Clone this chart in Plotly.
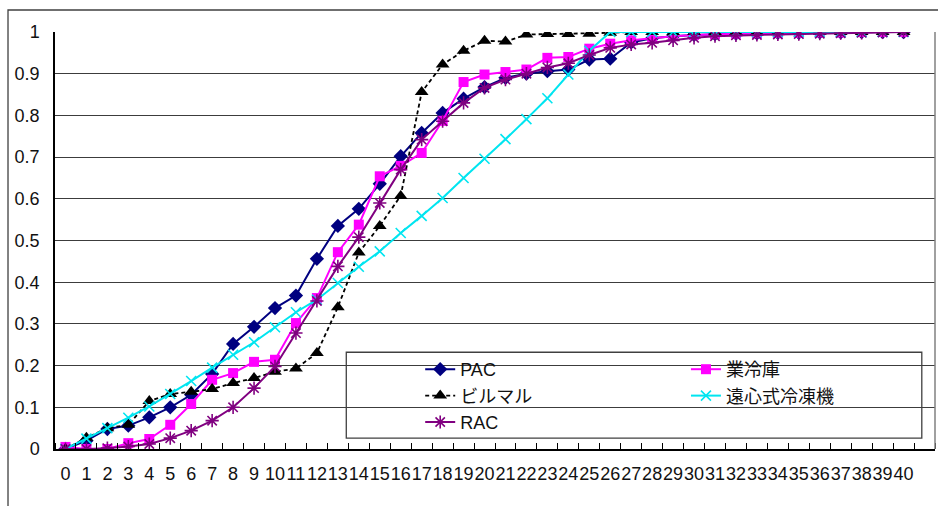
import plotly.graph_objects as go

# ---- data ----
x_vals = list(range(41))
x_labels = [str(i) for i in x_vals]
y_ticks = [0, 0.1, 0.2, 0.3, 0.4, 0.5, 0.6, 0.7, 0.8, 0.9, 1.0]
y_tick_labels = ["0", "0.1", "0.2", "0.3", "0.4", "0.5", "0.6", "0.7", "0.8", "0.9", "1"]

pac = [0, 0.02, 0.048, 0.056, 0.076, 0.10, 0.13, 0.18, 0.252, 0.293, 0.338, 0.368,
       0.456, 0.535, 0.576, 0.636, 0.702, 0.758, 0.806, 0.84, 0.868, 0.89, 0.90,
       0.906, 0.91, 0.934, 0.936, 0.975, 0.985, 0.99, 0.993, 0.995, 0.996, 0.997,
       0.998, 0.998, 0.999, 0.999, 1.0, 1.0, 1.0]
gyoreiko = [0.005, 0, 0, 0.014, 0.024, 0.058, 0.108, 0.166, 0.182, 0.209, 0.214, 0.302,
            0.362, 0.472, 0.538, 0.654, 0.679, 0.71, 0.787, 0.88, 0.898, 0.904, 0.91,
            0.938, 0.94, 0.96, 0.972, 0.98, 0.985, 0.99, 0.993, 0.995, 0.996, 0.997,
            0.998, 0.998, 0.999, 0.999, 1.0, 1.0, 1.0]
birumaru = [0, 0.027, 0.05, 0.058, 0.115, 0.132, 0.137, 0.144, 0.158, 0.17, 0.185, 0.193,
            0.23, 0.34, 0.471, 0.535, 0.607, 0.856, 0.922, 0.955, 0.979, 0.977, 0.994,
            0.995, 0.995, 0.996, 0.998, 1.0, 1.0, 1.0, 1.0, 1.0, 1.0, 1.0, 1.0, 1.0,
            1.0, 1.0, 1.0, 1.0, 1.0]
enshin = [0, 0.025, 0.05, 0.075, 0.102, 0.132, 0.163, 0.195, 0.226, 0.256, 0.292, 0.328,
          0.358, 0.398, 0.437, 0.474, 0.518, 0.559, 0.602, 0.65, 0.696, 0.743, 0.791,
          0.841, 0.898, 0.955, 1.0, 1.0, 1.0, 1.0, 1.0, 1.0, 1.0, 1.0, 1.0, 1.0,
          1.0, 1.0, 1.0, 1.0, 1.0]
rac = [0, 0, 0.002, 0.006, 0.012, 0.026, 0.044, 0.068, 0.10, 0.146, 0.198, 0.278,
       0.355, 0.438, 0.508, 0.59, 0.67, 0.742, 0.786, 0.83, 0.866, 0.886, 0.90,
       0.915, 0.925, 0.945, 0.962, 0.97, 0.974, 0.98, 0.986, 0.99, 0.992, 0.993,
       0.994, 0.995, 0.996, 0.997, 0.998, 0.999, 1.0]

FONT = "Liberation Sans, Arial, Noto Sans CJK JP, sans-serif"

fig = go.Figure()
fig.add_trace(go.Scatter(x=x_vals, y=pac, name="PAC", mode="lines+markers",
                         line=dict(color="#000080", width=2),
                         marker=dict(symbol="diamond", size=11, color="#000080"),
                         legend="legend"))
fig.add_trace(go.Scatter(x=x_vals, y=gyoreiko, name="業冷庫", mode="lines+markers",
                         line=dict(color="#FF00FF", width=2),
                         marker=dict(symbol="square", size=10, color="#FF00FF"),
                         legend="legend2"))
fig.add_trace(go.Scatter(x=x_vals, y=birumaru, name="ビルマル", mode="lines+markers",
                         line=dict(color="#000000", width=1.8, dash="4px,3px"),
                         marker=dict(symbol="triangle-up", size=12, color="#000000"),
                         legend="legend"))
fig.add_trace(go.Scatter(x=x_vals, y=enshin, name="遠心式冷凍機", mode="lines+markers",
                         line=dict(color="#00E5F0", width=2),
                         marker=dict(symbol="x-thin-open", size=10,
                                     line=dict(color="#00E5F0", width=1.6)),
                         legend="legend2"))
fig.add_trace(go.Scatter(x=x_vals, y=rac, name="RAC", mode="lines+markers",
                         line=dict(color="#800080", width=2),
                         marker=dict(symbol="asterisk-open", size=11,
                                     line=dict(color="#800080", width=1.6)),
                         legend="legend"))

fig.update_layout(
    width=938, height=506,
    margin=dict(l=55, r=3, t=32, b=57),
    paper_bgcolor="white", plot_bgcolor="white",
    font=dict(family=FONT, size=18, color="#111111"),
    showlegend=True,
    legend=dict(x=0.415, y=0.235, xanchor="left", yanchor="top",
                bgcolor="rgba(0,0,0,0)", borderwidth=0,
                font=dict(size=18, family=FONT), tracegroupgap=0),
    legend2=dict(x=0.717, y=0.235, xanchor="left", yanchor="top",
                 bgcolor="rgba(0,0,0,0)", borderwidth=0,
                 font=dict(size=18, family=FONT), tracegroupgap=0),
    xaxis=dict(range=[-0.5, 41.5], tickmode="array", tickvals=x_vals, ticktext=x_labels,
               showgrid=False, zeroline=False, ticks="", showline=True,
               linecolor="#000000", linewidth=1.5, tickfont=dict(size=18),
               tickangle=0, ticklabelstandoff=8,
               minor=dict(tickmode="array", tickvals=[v + 0.5 for v in range(-1, 42)],
                          ticks="inside", ticklen=6, tickcolor="#000000", tickwidth=1,
                          showgrid=False),
               fixedrange=True),
    yaxis=dict(range=[0, 1], tickmode="array", tickvals=y_ticks, ticktext=y_tick_labels,
               showgrid=True, gridcolor="#3c3c3c", gridwidth=1.3, zeroline=False,
               showline=True, linecolor="#000000", linewidth=1.5, ticks="",
               ticklabelstandoff=10, tickfont=dict(size=18), fixedrange=True),
)

# right border of plot area
fig.add_shape(type="line", xref="paper", yref="paper", x0=1, x1=1, y0=0, y1=1,
              line=dict(color="#808080", width=1.5))
# legend box
fig.add_shape(type="rect", xref="paper", yref="paper",
              x0=0.331, x1=0.985, y0=0.026, y1=0.232,
              line=dict(color="#404040", width=1.3), fillcolor="white", layer="below")
# outer chart border
fig.add_shape(type="rect", xref="paper", yref="paper",
              x0=-0.0534, x1=1.02, y0=-0.3, y1=1.0528,
              line=dict(color="#404040", width=1.3))

fig.write_html("out.html")
